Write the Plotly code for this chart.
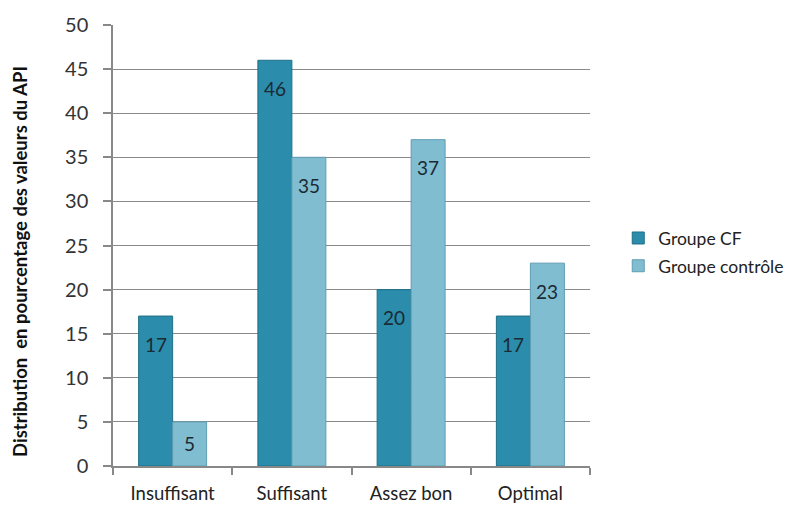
import plotly.graph_objects as go

categories = ["Insuffisant", "Suffisant", "Assez bon", "Optimal"]
groupe_cf = [17, 46, 20, 17]
groupe_controle = [5, 35, 37, 23]
series_names = ["Groupe CF", "Groupe contrôle"]
y_title = "Distribution  en pourcentage des valeurs du API"

font_family = "Lato, 'Open Sans', sans-serif"
col_cf = "#2b8cab"
col_ctrl = "#80bdd1"

fig = go.Figure()
fig.add_trace(go.Bar(x=categories, y=groupe_cf, name=series_names[0],
                     marker=dict(color=col_cf, line=dict(color="#1f6f88", width=1)),
                     legendgroup="a"))
fig.add_trace(go.Bar(x=categories, y=groupe_controle, name=series_names[1],
                     marker=dict(color=col_ctrl, line=dict(color="#5f9db2", width=1)),
                     legendgroup="b"))

# value labels near top of each bar
for i, cat in enumerate(categories):
    for k, vals in enumerate([groupe_cf, groupe_controle]):
        v = vals[i]
        fig.add_annotation(x=i + (-0.1425 if k == 0 else 0.1425), y=v, text=str(v),
                           showarrow=False, yshift=-28 if v > 8 else -22,
                           font=dict(size=19, color="#1b2a33", family=font_family),
                           xref="x", yref="y")

# y-axis title
fig.add_annotation(text="<b>" + y_title + "</b>", xref="paper", yref="paper",
                   x=-0.195, y=0.465, xanchor="center", yanchor="middle",
                   textangle=-90, showarrow=False,
                   font=dict(size=18.5, color="#111", family=font_family))

fig.update_layout(
    width=792, height=505,
    margin=dict(l=105, r=209, t=17, b=47),
    paper_bgcolor="white", plot_bgcolor="white",
    barmode="group", bargap=0.43, bargroupgap=0,
    font=dict(family=font_family, color="#222"),
    showlegend=True,
    legend=dict(x=1.057, y=0.485, xanchor="left", yanchor="middle",
                font=dict(size=17.5, color="#222"), tracegroupgap=2,
                bgcolor="rgba(0,0,0,0)"),
)
fig.update_xaxes(
    type="category", showline=True, linecolor="#888", linewidth=1.5,
    ticks="outside", tickson="boundaries", ticklen=7, tickcolor="#888", tickwidth=1.5,
    tickfont=dict(size=18.5, color="#222"), showgrid=False, range=[-0.5, 3.5],
    ticklabelstandoff=10, automargin=False,
)
fig.update_yaxes(
    range=[0, 50], dtick=5, showline=True, linecolor="#888", linewidth=1.5,
    ticks="outside", ticklen=8, tickcolor="#888", tickwidth=1.5,
    showgrid=True, gridcolor="#8a8a8a", gridwidth=1.3,
    tickfont=dict(size=20, color="#333"), zeroline=False,
    ticklabelstandoff=11, automargin=False,
)

fig.write_html("out.html")
